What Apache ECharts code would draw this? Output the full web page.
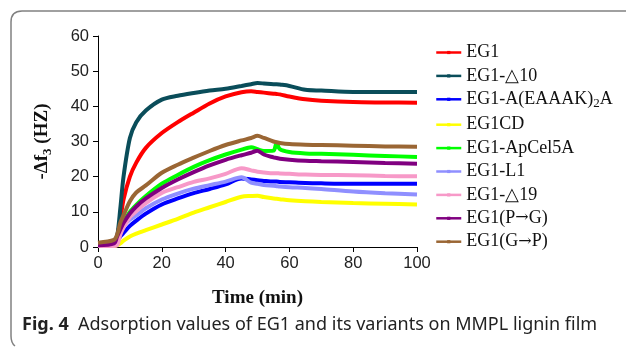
<!DOCTYPE html>
<html>
<head>
<meta charset="utf-8">
<script src="https://cdn.jsdelivr.net/npm/echarts@6/dist/echarts.min.js"></script>
<style>
  html, body { margin: 0; padding: 0; background: #fff; }
  #chart { width: 630px; height: 347px; }
</style>
</head>
<body>
<div id="chart"></div>
<script>
// time points (min), shared by all curves
const times = [0, 5, 6, 7, 8, 10, 12, 15, 20, 25, 30, 35, 40, 45, 48, 50, 52, 55, 56, 57, 60, 65, 70, 80, 90, 100];

// -Δf3 (Hz)
const eg1      = [0.5, 1, 3, 7.8, 13.5, 20, 24, 28.2, 32.4, 35.5, 38.2, 40.8, 42.8, 44, 44.3, 44.1, 43.9, 43.6, 43.5, 43.4, 42.8, 42, 41.6, 41.2, 41.1, 41];
const eg1d10   = [0.5, 1, 3, 11, 20, 31, 35.5, 38.8, 41.9, 43, 43.8, 44.5, 45, 45.8, 46.3, 46.6, 46.5, 46.3, 46.3, 46.2, 45.8, 44.7, 44.5, 44.1, 44.1, 44.1];
const eg1Eaaak = [0.3, 0.5, 1.5, 3, 4, 6, 7.5, 9.5, 12.1, 13.8, 15.3, 16.5, 17.8, 19.5, 19.2, 19, 18.8, 18.6, 18.6, 18.5, 18.4, 18.2, 18.1, 18, 18, 18];
const eg1cd    = [0.3, 0.3, 0.5, 1, 1.8, 3, 3.8, 4.8, 6.4, 8, 9.8, 11.3, 12.8, 14.3, 14.5, 14.6, 14.2, 13.8, 13.7, 13.6, 13.3, 13, 12.8, 12.5, 12.3, 12.1];
const eg1Ap    = [0.5, 1, 2.5, 5, 7, 10, 12, 14.5, 18, 20.5, 22.8, 24.7, 26.3, 27.7, 28.4, 27.8, 27.3, 27.4, 29.6, 27.8, 27, 26.6, 26.5, 26.2, 25.9, 25.6];
const eg1L1    = [0.5, 1, 3, 4.5, 6, 7.8, 9, 11, 13.5, 15.2, 16.6, 17.6, 18.6, 19.8, 18.3, 18, 17.6, 17.4, 17.3, 17.2, 17, 16.8, 16.5, 15.8, 15.3, 14.9];
const eg1d19   = [0.3, 0.3, 0.5, 3.5, 5.5, 8.5, 10.2, 12.5, 15.4, 17, 18.5, 19.5, 20.8, 22.4, 21.8, 21.4, 21.2, 21, 21, 20.9, 20.8, 20.6, 20.5, 20.4, 20.2, 20.1];
const eg1PG    = [0.5, 1, 3, 5, 6.8, 9.5, 11.5, 13.8, 16.8, 19.2, 21.3, 23.2, 24.8, 26.1, 26.8, 27.4, 26.3, 25.5, 25.3, 25.1, 24.8, 24.5, 24.4, 24.2, 23.9, 23.7];
const eg1GP    = [1.2, 2, 3.5, 6.9, 9, 13, 15.5, 17.5, 21.1, 23.4, 25.4, 27.3, 29, 30.3, 31, 31.6, 31, 30, 29.8, 29.6, 29.3, 29.1, 29, 28.8, 28.6, 28.5];

const names = ["EG1", "EG1-△10", "EG1-A(EAAAK)2A", "EG1CD", "EG1-ApCel5A", "EG1-L1", "EG1-△19", "EG1(P→G)", "EG1(G→P)"];
const values = [eg1, eg1d10, eg1Eaaak, eg1cd, eg1Ap, eg1L1, eg1d19, eg1PG, eg1GP];
const colors = ["#ff0000", "#0a4d5a", "#0000ff", "#ffff00", "#00ff00", "#8f8fff", "#f799c8", "#800080", "#9a6634"];

const chart = echarts.init(document.getElementById("chart"));

const serif = "Liberation Serif";
const sans = "Liberation Sans";
const frame = { stroke: "#808080", lineWidth: 1.5, fill: "none" };

// subscript 2 and a wider arrow glyph in the legend
function legendLabel(n) {
  return n.replace("K)2A", "K){sub|2}A").replace("→", "{arr|→}");
}

chart.setOption({
  animation: false,
  backgroundColor: "#fff",
  grid: { left: 98, right: 213, top: 36, bottom: 100 },
  legend: {
    orient: "vertical",
    left: 430,
    top: 38.5,
    itemWidth: 25,
    itemHeight: 4,
    itemGap: 5.4,
    data: names,
    lineStyle: { width: 2.5 },
    formatter: legendLabel,
    textStyle: {
      fontFamily: serif,
      fontSize: 18,
      color: "#111",
      rich: {
        sub: { fontFamily: serif, fontSize: 13, verticalAlign: "bottom", padding: [9, 0, 0, 0], color: "#111" },
        arr: { fontFamily: "DejaVu Serif", fontSize: 16, color: "#111" },
      },
    },
  },
  xAxis: {
    type: "value",
    min: 0,
    max: 100,
    interval: 20,
    name: "Time (min)",
    nameLocation: "middle",
    nameGap: 42,
    nameTextStyle: { fontFamily: serif, fontWeight: "bold", fontSize: 19, color: "#111" },
    axisLine: { show: true, lineStyle: { color: "#000", width: 1 } },
    axisTick: { show: true, length: 5, lineStyle: { color: "#000" } },
    axisLabel: { fontFamily: sans, fontSize: 16.5, color: "#222", margin: 8 },
    splitLine: { show: false },
  },
  yAxis: {
    type: "value",
    min: 0,
    max: 60,
    interval: 10,
    name: "-Δf{sub|3} (HZ)",
    nameLocation: "middle",
    nameGap: 44,
    nameTextStyle: {
      fontFamily: serif, fontWeight: "bold", fontSize: 19, color: "#111",
      rich: { sub: { fontFamily: serif, fontWeight: "bold", fontSize: 13, verticalAlign: "bottom", padding: [10, 0, 0, 0], color: "#111" } },
    },
    axisLine: { show: true, lineStyle: { color: "#000", width: 1 } },
    axisTick: { show: true, length: 5, lineStyle: { color: "#000" } },
    axisLabel: { fontFamily: sans, fontSize: 16.5, color: "#222", margin: 9 },
    splitLine: { show: false },
  },
  series: names.map((name, i) => ({
    name,
    type: "line",
    data: times.map((t, j) => [t, values[i][j]]),
    smooth: 0.3,
    symbol: "rect",
    symbolSize: 4,
    showSymbol: false,
    color: colors[i],
    lineStyle: { width: 4, color: colors[i] },
    itemStyle: { color: colors[i] },
  })),
  graphic: [
    // figure frame (top edge, rounded corner, left edge)
    { type: "line", shape: { x1: 22, y1: 11, x2: 626, y2: 11 }, style: frame },
    { type: "bezierCurve", shape: { x1: 11, y1: 22, x2: 22, y2: 11, cpx1: 11, cpy1: 11 }, style: frame },
    { type: "line", shape: { x1: 11, y1: 22, x2: 11, y2: 336 }, style: frame },
    { type: "bezierCurve", shape: { x1: 11, y1: 336, x2: 15, y2: 346, cpx1: 11, cpy1: 343 }, style: frame },
    {
      type: "text",
      left: 22,
      top: 316,
      style: {
        text: "{b|Fig. 4}  Adsorption values of EG1 and its variants on MMPL lignin film",
        fontFamily: "Noto Sans",
        fontSize: 18,
        fill: "#222",
        rich: { b: { fontFamily: "Noto Sans", fontWeight: "bold", fontSize: 18, fill: "#222" } },
      },
    },
  ],
});
</script>
</body>
</html>
